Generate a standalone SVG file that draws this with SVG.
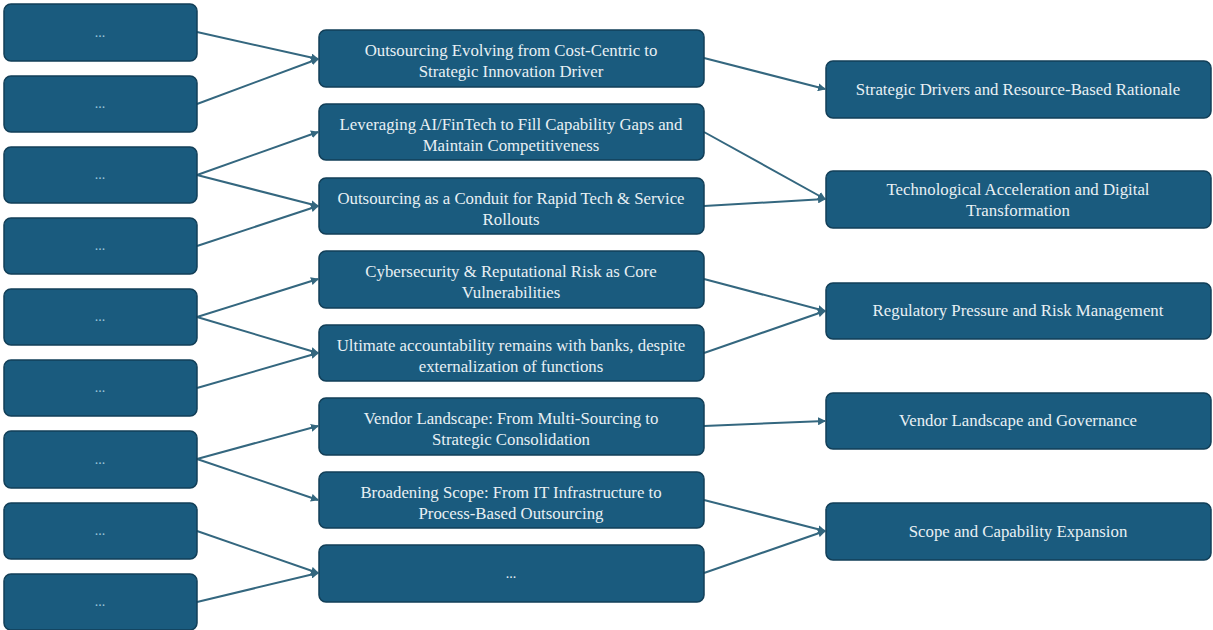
<svg xmlns="http://www.w3.org/2000/svg" width="1213" height="630" viewBox="0 0 1213 630">
<style>
.box{fill:#1a5b7e;stroke:#123f58;stroke-width:1.5}
.t{font-family:'Liberation Serif','Times New Roman','DejaVu Serif',serif;font-size:16.8px;fill:#e8f0f4;text-anchor:middle}
.d{font-family:'Liberation Serif','Times New Roman',serif;font-size:14px;fill:#9cc6da;text-anchor:middle}
.c line{stroke:#34677f;stroke-width:2;marker-end:url(#ah)}
</style>
<defs>
<marker id="ah" markerWidth="8" markerHeight="8" refX="7" refY="4" orient="auto" markerUnits="userSpaceOnUse">
<path d="M0,0 L8,4 L0,8 Z" fill="#34677f"/>
</marker>
</defs>
<rect width="1213" height="630" fill="#ffffff"/>
<g class="c" id="connectors">
<line x1="197" y1="32" x2="318" y2="59"/>
<line x1="197" y1="104" x2="318" y2="59"/>
<line x1="197" y1="175" x2="318" y2="132"/>
<line x1="197" y1="175" x2="318" y2="206"/>
<line x1="197" y1="246" x2="318" y2="206"/>
<line x1="197" y1="317" x2="318" y2="279"/>
<line x1="197" y1="317" x2="318" y2="353"/>
<line x1="197" y1="388" x2="318" y2="353"/>
<line x1="197" y1="459" x2="318" y2="426"/>
<line x1="197" y1="459" x2="318" y2="500"/>
<line x1="197" y1="531" x2="318" y2="573"/>
<line x1="197" y1="602" x2="318" y2="573"/>
<line x1="704" y1="58" x2="825" y2="89"/>
<line x1="704" y1="132" x2="825" y2="199"/>
<line x1="704" y1="206" x2="825" y2="199"/>
<line x1="704" y1="279" x2="825" y2="311"/>
<line x1="704" y1="353" x2="825" y2="311"/>
<line x1="704" y1="426" x2="825" y2="421"/>
<line x1="704" y1="500" x2="825" y2="531"/>
<line x1="704" y1="573" x2="825" y2="531"/>
</g>
<g id="L1"><rect class="box" x="4" y="4" width="193" height="57" rx="7"/><text class="d" x="100" y="37">...</text></g>
<g id="L2"><rect class="box" x="4" y="76" width="193" height="56" rx="7"/><text class="d" x="100" y="108">...</text></g>
<g id="L3"><rect class="box" x="4" y="147" width="193" height="56" rx="7"/><text class="d" x="100" y="179">...</text></g>
<g id="L4"><rect class="box" x="4" y="218" width="193" height="56" rx="7"/><text class="d" x="100" y="250">...</text></g>
<g id="L5"><rect class="box" x="4" y="289" width="193" height="56" rx="7"/><text class="d" x="100" y="321">...</text></g>
<g id="L6"><rect class="box" x="4" y="360" width="193" height="56" rx="7"/><text class="d" x="100" y="392">...</text></g>
<g id="L7"><rect class="box" x="4" y="431" width="193" height="57" rx="7"/><text class="d" x="100" y="464">...</text></g>
<g id="L8"><rect class="box" x="4" y="503" width="193" height="56" rx="7"/><text class="d" x="100" y="535">...</text></g>
<g id="L9"><rect class="box" x="4" y="574" width="193" height="56" rx="7"/><text class="d" x="100" y="606">...</text></g>
<g id="M1"><rect class="box" x="319" y="30" width="385" height="57" rx="7"/><text class="t" x="511" y="56">Outsourcing Evolving from Cost-Centric to</text><text class="t" x="511" y="77">Strategic Innovation Driver</text></g>
<g id="M2"><rect class="box" x="319" y="104" width="385" height="56" rx="7"/><text class="t" x="511" y="130">Leveraging AI/FinTech to Fill Capability Gaps and</text><text class="t" x="511" y="151">Maintain Competitiveness</text></g>
<g id="M3"><rect class="box" x="319" y="178" width="385" height="56" rx="7"/><text class="t" x="511" y="204">Outsourcing as a Conduit for Rapid Tech &amp; Service</text><text class="t" x="511" y="225">Rollouts</text></g>
<g id="M4"><rect class="box" x="319" y="251" width="385" height="57" rx="7"/><text class="t" x="511" y="277">Cybersecurity &amp; Reputational Risk as Core</text><text class="t" x="511" y="298">Vulnerabilities</text></g>
<g id="M5"><rect class="box" x="319" y="325" width="385" height="56" rx="7"/><text class="t" x="511" y="351">Ultimate accountability remains with banks, despite</text><text class="t" x="511" y="372">externalization of functions</text></g>
<g id="M6"><rect class="box" x="319" y="398" width="385" height="57" rx="7"/><text class="t" x="511" y="424">Vendor Landscape: From Multi-Sourcing to</text><text class="t" x="511" y="445">Strategic Consolidation</text></g>
<g id="M7"><rect class="box" x="319" y="472" width="385" height="56" rx="7"/><text class="t" x="511" y="498">Broadening Scope: From IT Infrastructure to</text><text class="t" x="511" y="519">Process-Based Outsourcing</text></g>
<g id="M8"><rect class="box" x="319" y="545" width="385" height="57" rx="7"/><text class="t" x="511" y="578" style="font-size:14px">...</text></g>
<g id="R1"><rect class="box" x="826" y="61" width="385" height="57" rx="7"/><text class="t" x="1018" y="95">Strategic Drivers and Resource-Based Rationale</text></g>
<g id="R2"><rect class="box" x="826" y="171" width="385" height="57" rx="7"/><text class="t" x="1018" y="195">Technological Acceleration and Digital</text><text class="t" x="1018" y="216">Transformation</text></g>
<g id="R3"><rect class="box" x="826" y="283" width="385" height="56" rx="7"/><text class="t" x="1018" y="316">Regulatory Pressure and Risk Management</text></g>
<g id="R4"><rect class="box" x="826" y="393" width="385" height="56" rx="7"/><text class="t" x="1018" y="426">Vendor Landscape and Governance</text></g>
<g id="R5"><rect class="box" x="826" y="503" width="385" height="57" rx="7"/><text class="t" x="1018" y="537">Scope and Capability Expansion</text></g>
</svg>
